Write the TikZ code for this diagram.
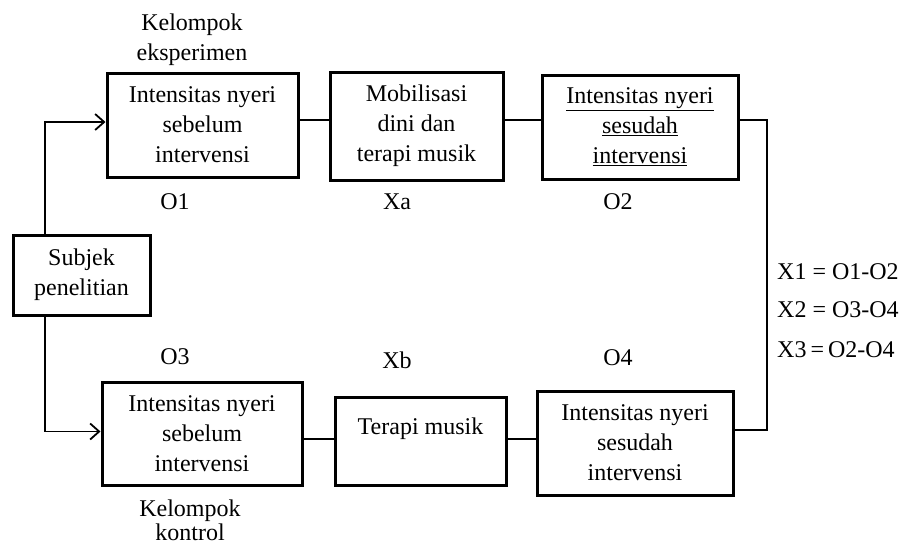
\documentclass[tikz,border=0pt]{standalone}
\usepackage{fontspec}
\setmainfont{Liberation Serif}
\usetikzlibrary{arrows.meta}
\tikzset{
	box/.style={draw, line width=3pt, align=center, inner sep=0pt},
	lbl/.style={inner sep=0pt, align=center},
	link/.style={line width=1.8pt},
	arrowlink/.style={line width=1.8pt, -{Straight Barb[length=9pt,width=16pt,line width=1.8pt]}},
}

\begin{document}
\begin{tikzpicture}[x=1pt, y=-1pt, font=\fontsize{24}{30}\selectfont]
			%%%%% START %%%%%
			\useasboundingbox (0,0) rectangle (913,547);
			
			\node[box, minimum width=137pt, minimum height=80pt] (subj) at (81.5,275) {Subjek\\penelitian};
			\coordinate (trunk) at (45,275);
			\coordinate (join) at (767,275);
			
			% kelompok eksperimen
			\node[box, minimum width=191pt, minimum height=104pt] (pre1) at (202.5,125) {Intensitas nyeri\\sebelum\\intervensi};
			\node[box, minimum width=173pt, minimum height=108pt] (treat1) at (416.5,126) {Mobilisasi\\dini dan\\terapi musik};
			\node[box, minimum width=196pt, minimum height=104pt] (post1) at (640,127) {\underline{Intensitas nyeri}\\\underline{sesudah}\\\underline{intervensi}};
			
			% kelompok kontrol
			\node[box, minimum width=200pt, minimum height=103pt] (pre2) at (202,433.5) {Intensitas nyeri\\sebelum\\intervensi};
			\node[box, minimum width=171pt, minimum height=88pt] (treat2) at (420.5,441) {Terapi musik\\\mbox{}};
			\node[box, minimum width=196pt, minimum height=104pt] (post2) at (635,443) {Intensitas nyeri\\sesudah\\intervensi};
			
			\node[lbl] (grpA) at (192,40) {Kelompok\\eksperimen};
			\node[lbl, font=\fontsize{24}{24}\selectfont] (grpB) at (190,520) {Kelompok\\kontrol};
			\node[lbl] (o1) at (175,202) {O1};
			\node[lbl] (xa) at (397,202) {Xa};
			\node[lbl] (o2) at (618,202) {O2};
			\node[lbl] (o3) at (175,357) {O3};
			\node[lbl] (xb) at (397,360) {Xb};
			\node[lbl] (o4) at (618,358) {O4};
			\node[lbl, anchor=west] (x1) at (777,272) {X1 = O1-O2};
			\node[lbl, anchor=west] (x2) at (777,310) {X2 = O3-O4};
			\node[lbl, anchor=west] (x3) at (777,350) {X3\,=\,O2-O4};
			
			\draw[arrowlink] (trunk |- subj.north) |- ([yshift=3pt]pre1.west);
			\draw[arrowlink] (trunk |- subj.south) |- ([yshift=2pt]pre2.west);
			
			\draw[link] ([yshift=5pt]pre1.east) -- ([yshift=5pt]pre1.east -| treat1.west);
			\draw[link] ([yshift=6pt]treat1.east) -- ([yshift=6pt]treat1.east -| post1.west);
			\draw[link] ([yshift=-5.5pt]pre2.east) -- ([yshift=-5.5pt]pre2.east -| treat2.west);
			\draw[link] ([yshift=2pt]treat2.east) -- ([yshift=2pt]treat2.east -| post2.west);
			
			\draw[link] ([yshift=7pt]post1.east) -| (join) |- ([yshift=13pt]post2.east);
			%%%%% END %%%%%
\end{tikzpicture}
\end{document}
